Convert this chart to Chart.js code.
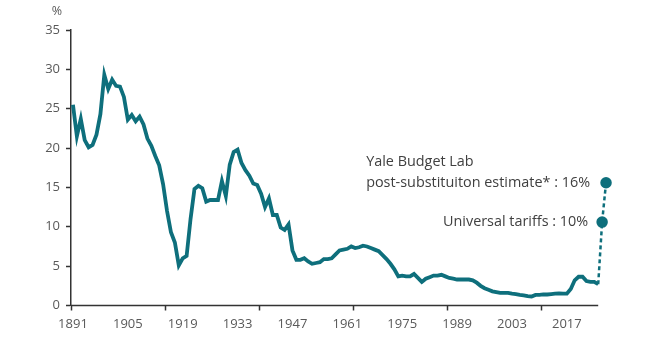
<!DOCTYPE html>
<html>
<head>
<meta charset="utf-8">
<script src="https://cdn.jsdelivr.net/npm/chart.js@4/dist/chart.umd.min.js"></script>
<style>
  html, body { margin: 0; padding: 0; background: #fff; }
  .wrap { width: 655px; height: 343px; }
</style>
</head>
<body>
<div class="wrap"><canvas id="cv" width="655" height="343"></canvas></div>
<script>
// average effective tariff rate, %, one value per year from 1891
const firstYear = 1891;
const tariffRate = [
  25.5, 21.5, 23.7, 21.0, 20.1, 20.4, 21.7, 24.3, 29.3, 27.5,
  28.7, 27.9, 27.8, 26.5, 23.6, 24.2, 23.4, 24.0, 23.0, 21.2,
  20.3, 19.0, 17.8, 15.4, 12.0, 9.3, 8.0, 5.1, 6.0, 6.3,
  11.0, 14.8, 15.2, 14.9, 13.2, 13.4, 13.4, 13.4, 15.8, 13.9,
  17.9, 19.5, 19.8, 18.1, 17.2, 16.5, 15.5, 15.3, 14.2, 12.5,
  13.6, 11.5, 11.5, 9.9, 9.6, 10.3, 7.0, 5.8, 5.8, 6.0,
  5.6, 5.3, 5.4, 5.5, 5.9, 5.9, 6.0, 6.5, 7.0, 7.1,
  7.2, 7.5, 7.3, 7.4, 7.6, 7.5, 7.3, 7.1, 6.9, 6.4,
  5.9, 5.3, 4.6, 3.7, 3.8, 3.7, 3.7, 4.0, 3.5, 3.0,
  3.4, 3.6, 3.8, 3.8, 3.9, 3.7, 3.5, 3.4, 3.3, 3.3,
  3.3, 3.3, 3.2, 2.9, 2.5, 2.2, 2.0, 1.8, 1.7, 1.6,
  1.6, 1.6, 1.5, 1.45, 1.35, 1.3, 1.2, 1.15, 1.35, 1.35,
  1.4, 1.4, 1.45, 1.5, 1.55, 1.5, 1.5, 2.1, 3.2, 3.65,
  3.65, 3.1, 3.0, 3.0, 2.7
];
// estimates shown with the dashed line
const estimateYears = [2026, 2027];
const estimateRates = [10.6, 15.6];
const estimateLabels = ['Universal tariffs : 10%', 'post-substituiton estimate* : 16%'];
const estimateTitle = 'Yale Budget Lab';

const labelYears = [1891, 1905, 1919, 1933, 1947, 1961, 1975, 1989, 2003, 2017];
const markYears = [1890.5, 1914.5, 1938.5, 1962.5, 1986.5, 2010.5];
const yTicks = [0, 5, 10, 15, 20, 25, 30, 35];
const axisEnd = 2025;

const lineColor = '#0e6f7c';
const axisColor = '#333';
const font = "'Open Sans', sans-serif";

const history = tariffRate.map((v, i) => ({x: firstYear + i, y: v}));
const lastYear = firstYear + tariffRate.length - 1;
const dashed = [{x: lastYear, y: tariffRate[tariffRate.length - 1]}]
  .concat(estimateYears.map((x, i) => ({x: x, y: estimateRates[i]})));

// x axis line stops at the last year of history, the estimates sit past it
const notes = {
  id: 'notes',
  beforeDatasetsDraw(chart) {
    const c = chart.ctx, xs = chart.scales.x, ys = chart.scales.y;
    c.save();
    c.strokeStyle = axisColor;
    c.lineWidth = 1.5;
    c.beginPath();
    c.moveTo(xs.left, ys.bottom);
    c.lineTo(xs.getPixelForValue(axisEnd), ys.bottom);
    c.stroke();
    c.restore();
  },
  afterDatasetsDraw(chart) {
    const c = chart.ctx, xs = chart.scales.x, ys = chart.scales.y;
    c.save();
    c.fillStyle = '#404040';
    c.font = '14.4px ' + font;
    c.textBaseline = 'middle';
    c.textAlign = 'right';
    const gaps = [14, 16];
    let left = 0;
    estimateLabels.forEach((t, i) => {
      const px = xs.getPixelForValue(estimateYears[i]);
      const py = ys.getPixelForValue(estimateRates[i]);
      c.fillText(t, px - gaps[i], py);
      if (i === 1) left = px - gaps[i] - c.measureText(t).width;
    });
    c.textAlign = 'left';
    c.fillText(estimateTitle, left, ys.getPixelForValue(estimateRates[1]) - 21);
    c.fillStyle = '#595959';
    c.font = '12.5px ' + font;
    c.textAlign = 'center';
    c.fillText('%', 57, 11);
    c.restore();
  }
};

new Chart(document.getElementById('cv'), {
  type: 'line',
  data: {
    datasets: [{
      data: history,
      borderColor: lineColor,
      borderWidth: 3.8,
      pointRadius: 0,
      tension: 0,
      fill: false
    }, {
      data: dashed,
      borderColor: lineColor,
      backgroundColor: lineColor,
      borderWidth: 2.5,
      borderDash: [4, 3],
      pointRadius: [0, 4.5, 4.5],
      pointHoverRadius: 0,
      tension: 0,
      fill: false,
      clip: false
    }]
  },
  options: {
    responsive: false,
    animation: false,
    events: [],
    layout: {padding: {left: 0, right: 47, top: 30, bottom: 0}},
    plugins: {legend: {display: false}, tooltip: {enabled: false}},
    scales: {
      x: {
        type: 'linear',
        min: 1890.5,
        max: 2027.5,
        afterBuildTicks(s) {
          s.ticks = markYears.concat(labelYears).sort((a, b) => a - b).map(v => ({value: v}));
        },
        afterFit(s) { s.height = 37.5; },
        border: {display: false},
        grid: {
          drawOnChartArea: false,
          drawTicks: true,
          tickLength: 5,
          tickWidth: 1.5,
          tickColor: ctx => (ctx.tick && !Number.isInteger(ctx.tick.value)) ? axisColor : 'rgba(0,0,0,0)'
        },
        ticks: {
          autoSkip: false,
          maxRotation: 0,
          padding: 6,
          color: '#595959',
          font: {family: font, size: 13},
          callback: v => Number.isInteger(v) ? String(v) : ''
        }
      },
      y: {
        min: 0,
        max: 35,
        afterBuildTicks(s) { s.ticks = yTicks.map(v => ({value: v})); },
        afterFit(s) { s.width = 71; },
        border: {display: true, color: axisColor, width: 1.5},
        grid: {drawOnChartArea: false, drawTicks: true, tickLength: 5, tickWidth: 1.5, tickColor: axisColor},
        ticks: {
          padding: 6,
          color: '#595959',
          font: {family: font, size: 13}
        }
      }
    }
  },
  plugins: [notes]
});
</script>
</body>
</html>
